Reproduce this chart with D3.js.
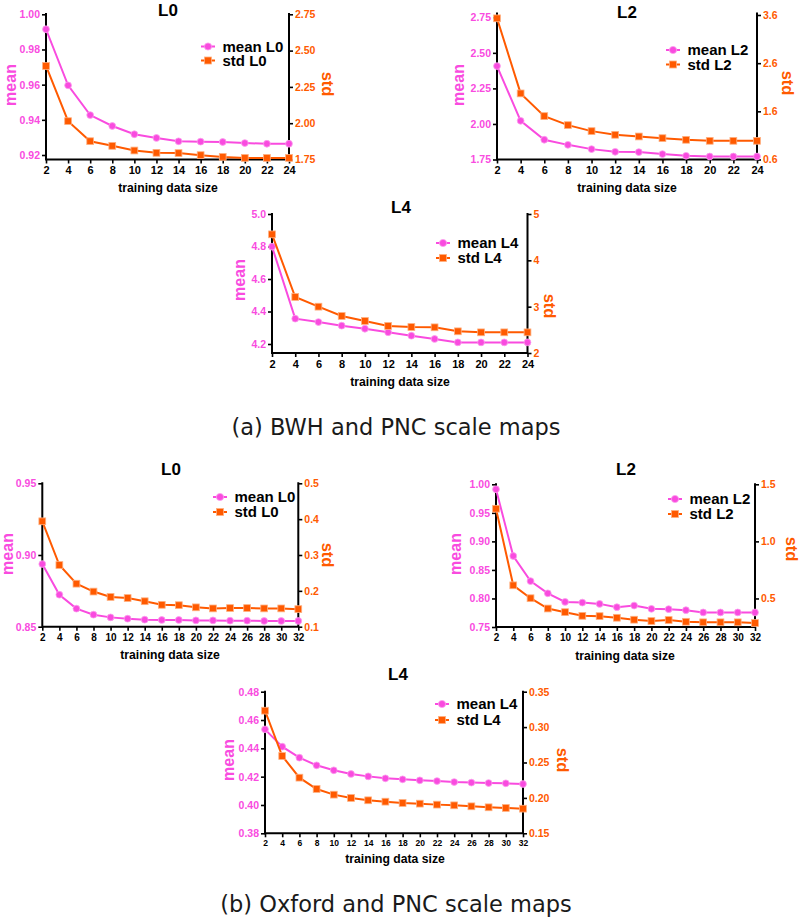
<!DOCTYPE html>
<html>
<head>
<meta charset="utf-8">
<script src="https://cdn.jsdelivr.net/npm/d3@7"></script>
<style>
  html, body { margin: 0; padding: 0; background: #fff; }
  svg { display: block; }
</style>
</head>
<body>
<svg id="chart" width="800" height="922"></svg>
<script>
// ---------------- DATA ----------------
const sizesA = [2, 4, 6, 8, 10, 12, 14, 16, 18, 20, 22, 24];
const sizesB = [2, 4, 6, 8, 10, 12, 14, 16, 18, 20, 22, 24, 26, 28, 30, 32];

// (a) BWH and PNC scale maps
const meanA_L0 = [0.9915, 0.9596, 0.9427, 0.9365, 0.9318, 0.9297, 0.9278, 0.9276, 0.9274, 0.9268, 0.9264, 0.9264];
const stdA_L0  = [2.394, 2.014, 1.876, 1.844, 1.812, 1.796, 1.794, 1.780, 1.768, 1.761, 1.761, 1.761];
const meanA_L2 = [2.407, 2.022, 1.889, 1.853, 1.823, 1.804, 1.802, 1.788, 1.776, 1.771, 1.771, 1.771];
const stdA_L2  = [3.531, 1.972, 1.501, 1.314, 1.189, 1.113, 1.078, 1.043, 1.009, 0.988, 0.988, 0.988];
const meanA_L4 = [4.799, 4.356, 4.335, 4.313, 4.294, 4.272, 4.251, 4.231, 4.210, 4.210, 4.210, 4.210];
const stdA_L4  = [4.561, 3.209, 3.000, 2.799, 2.691, 2.583, 2.561, 2.554, 2.468, 2.446, 2.446, 2.446];

// (b) Oxford and PNC scale maps
const meanB_L0 = [0.8937, 0.8723, 0.8626, 0.8584, 0.8565, 0.8556, 0.8549, 0.8547, 0.8547, 0.8544, 0.8544, 0.8542, 0.8542, 0.8540, 0.8540, 0.8540];
const stdB_L0  = [0.394, 0.272, 0.220, 0.198, 0.183, 0.180, 0.171, 0.161, 0.160, 0.154, 0.151, 0.152, 0.152, 0.151, 0.151, 0.149];
const meanB_L2 = [0.9913, 0.8744, 0.8304, 0.8090, 0.7940, 0.7928, 0.7905, 0.7847, 0.7876, 0.7818, 0.7813, 0.7795, 0.7755, 0.7755, 0.7755, 0.7755];
const stdB_L2  = [1.286, 0.615, 0.502, 0.412, 0.380, 0.348, 0.345, 0.331, 0.314, 0.302, 0.311, 0.296, 0.291, 0.291, 0.291, 0.285];
const meanB_L4 = [0.4534, 0.4412, 0.4334, 0.4280, 0.4245, 0.4219, 0.4202, 0.4188, 0.4181, 0.4174, 0.4169, 0.4162, 0.4158, 0.4155, 0.4153, 0.4148];
const stdB_L4  = [0.3232, 0.2592, 0.2286, 0.2126, 0.2046, 0.1999, 0.1966, 0.1947, 0.1928, 0.1919, 0.1905, 0.1895, 0.1881, 0.1867, 0.1858, 0.1848];

// tick labels
const xTicksA = ["2","4","6","8","10","12","14","16","18","20","22","24"];
const xTicksB = ["2","4","6","8","10","12","14","16","18","20","22","24","26","28","30","32"];
const meanTicksA_L0 = ["0.92","0.94","0.96","0.98","1.00"];
const stdTicksA_L0  = ["1.75","2.00","2.25","2.50","2.75"];
const meanTicksA_L2 = ["1.75","2.00","2.25","2.50","2.75"];
const stdTicksA_L2  = ["0.6","1.6","2.6","3.6"];
const meanTicksA_L4 = ["4.2","4.4","4.6","4.8","5.0"];
const stdTicksA_L4  = ["2","3","4","5"];
const meanTicksB_L0 = ["0.85","0.90","0.95"];
const stdTicksB_L0  = ["0.1","0.2","0.3","0.4","0.5"];
const meanTicksB_L2 = ["0.75","0.80","0.85","0.90","0.95","1.00"];
const stdTicksB_L2  = ["0.5","1.0","1.5"];
const meanTicksB_L4 = ["0.38","0.40","0.42","0.44","0.46","0.48"];
const stdTicksB_L4  = ["0.15","0.20","0.25","0.30","0.35"];

// axis domains (value at bottom / top of each vertical axis)
const meanDomainA_L0 = [0.92, 1.00];  const stdDomainA_L0 = [1.75, 2.75];
const meanDomainA_L2 = [1.75, 2.75];  const stdDomainA_L2 = [0.6, 3.6];
const meanDomainA_L4 = [4.2, 5.0];    const stdDomainA_L4 = [2, 5];
const meanDomainB_L0 = [0.85, 0.95];  const stdDomainB_L0 = [0.1, 0.5];
const meanDomainB_L2 = [0.75, 1.00];  const stdDomainB_L2 = [0.25, 1.5];
const meanDomainB_L4 = [0.38, 0.48];  const stdDomainB_L4 = [0.15, 0.35];

const titles = ["L0", "L2", "L4", "L0", "L2", "L4"];
const captions = ["(a) BWH and PNC scale maps", "(b) Oxford and PNC scale maps"];

// ---------------- STYLE / LAYOUT ----------------
const MAGENTA = "#F94BDF";
const ORANGE = "#FF5A00";
const FONT = "'Liberation Sans', Arial, Helvetica, sans-serif";

const panels = [
  { title: titles[0], xs: sizesA, xt: xTicksA, mean: meanA_L0, std: stdA_L0,
    mt: meanTicksA_L0, st: stdTicksA_L0, md: meanDomainA_L0, sd: stdDomainA_L0,
    xL: 46, xR: 289, yT: 14, yB: 159.5, mRange: [155, 14.3], sRange: [159.5, 14.3],
    titleX: 168, titleY: 16, legX: 208, legY: 46.5, legDY: 14,
    meanLab: [10, 85], stdLab: [328, 84], xLab: [168, 192], xFs: 11 },
  { title: titles[1], xs: sizesA, xt: xTicksA, mean: meanA_L2, std: stdA_L2,
    mt: meanTicksA_L2, st: stdTicksA_L2, md: meanDomainA_L2, sd: stdDomainA_L2,
    xL: 497, xR: 757, yT: 13.5, yB: 159.5, mRange: [159.5, 17.3], sRange: [159.5, 15],
    titleX: 627, titleY: 18, legX: 673, legY: 50, legDY: 14.5,
    meanLab: [458, 85], stdLab: [788, 83], xLab: [627, 192], xFs: 11 },
  { title: titles[2], xs: sizesA, xt: xTicksA, mean: meanA_L4, std: stdA_L4,
    mt: meanTicksA_L4, st: stdTicksA_L4, md: meanDomainA_L4, sd: stdDomainA_L4,
    xL: 272, xR: 527.5, yT: 214, yB: 353, mRange: [344, 214], sRange: [353, 214],
    titleX: 401, titleY: 213, legX: 443, legY: 243, legDY: 15,
    meanLab: [239, 280], stdLab: [550, 306], xLab: [400, 386], xFs: 11 },
  { title: titles[3], xs: sizesB, xt: xTicksB, mean: meanB_L0, std: stdB_L0,
    mt: meanTicksB_L0, st: stdTicksB_L0, md: meanDomainB_L0, sd: stdDomainB_L0,
    xL: 42.3, xR: 298.3, yT: 483.3, yB: 626.7, mRange: [626.7, 483.3], sRange: [626.7, 483.3],
    titleX: 171, titleY: 475, legX: 220, legY: 497, legDY: 15,
    meanLab: [7, 554], stdLab: [328, 555], xLab: [170, 659], xFs: 10 },
  { title: titles[4], xs: sizesB, xt: xTicksB, mean: meanB_L2, std: stdB_L2,
    mt: meanTicksB_L2, st: stdTicksB_L2, md: meanDomainB_L2, sd: stdDomainB_L2,
    xL: 496, xR: 755, yT: 484.3, yB: 627, mRange: [627, 484.3], sRange: [627, 484.3],
    titleX: 626, titleY: 475, legX: 675, legY: 499, legDY: 15,
    meanLab: [455, 554], stdLab: [792, 549], xLab: [625, 660], xFs: 10 },
  { title: titles[5], xs: sizesB, xt: xTicksB, mean: meanB_L4, std: stdB_L4,
    mt: meanTicksB_L4, st: stdTicksB_L4, md: meanDomainB_L4, sd: stdDomainB_L4,
    xL: 265, xR: 523, yT: 691.7, yB: 833.3, mRange: [833.3, 691.7], sRange: [833.3, 691.7],
    titleX: 398, titleY: 680, legX: 442, legY: 704, legDY: 16,
    meanLab: [228, 760], stdLab: [563, 760], xLab: [395, 863], xFs: 8.5 }
];

const svg = d3.select("#chart");

function drawPanel(p) {
  const g = svg.append("g");
  const x = d3.scaleLinear().domain([p.xs[0], p.xs[p.xs.length - 1]]).range([p.xL, p.xR]);
  const yM = d3.scaleLinear().domain(p.md).range(p.mRange);
  const yS = d3.scaleLinear().domain(p.sd).range(p.sRange);

  // axes
  const xAxis = d3.axisBottom(x).tickValues(p.xs).tickFormat((d, i) => p.xt[i])
    .tickSize(4).tickPadding(3);
  const gx = g.append("g").attr("transform", `translate(0,${p.yB})`).call(xAxis);
  const mVals = p.mt.map(Number);
  const gl = g.append("g").attr("transform", `translate(${p.xL},0)`)
    .call(d3.axisLeft(yM).tickValues(mVals).tickFormat((d, i) => p.mt[i]).tickSize(4).tickPadding(2));
  const sVals = p.st.map(Number);
  const gr = g.append("g").attr("transform", `translate(${p.xR},0)`)
    .call(d3.axisRight(yS).tickValues(sVals).tickFormat((d, i) => p.st[i]).tickSize(4).tickPadding(2));

  [gx, gl, gr].forEach(a => {
    a.select(".domain").remove();
    a.selectAll(".tick line").attr("stroke", "#000").attr("stroke-width", 1.6);
    a.selectAll(".tick text").attr("font-family", FONT).attr("font-weight", "bold");
  });
  gx.selectAll(".tick text").attr("font-size", p.xFs).attr("fill", "#000");
  gl.selectAll(".tick text").attr("font-size", 10.5).attr("fill", MAGENTA);
  gr.selectAll(".tick text").attr("font-size", 10.5).attr("fill", ORANGE);

  // axis lines
  const axG = g.append("g").attr("stroke", "#000").attr("stroke-width", 2).attr("fill", "none");
  axG.append("path").attr("d", `M${p.xL},${p.yT}V${p.yB}H${p.xR}V${p.yT}`)
    .attr("stroke-linejoin", "miter").attr("stroke-linecap", "square");

  // series
  const series = [
    { vals: p.mean, color: MAGENTA, shape: "circle", scale: yM },
    { vals: p.std, color: ORANGE, shape: "square", scale: yS }
  ];
  series.forEach(s => {
    const line = d3.line().x((d, i) => x(p.xs[i])).y(d => s.scale(d));
    g.append("path").datum(s.vals).attr("d", line)
      .attr("fill", "none").attr("stroke", s.color).attr("stroke-width", 2);
    const mk = g.append("g");
    if (s.shape === "circle") {
      mk.selectAll("circle").data(s.vals).join("circle")
        .attr("cx", (d, i) => x(p.xs[i])).attr("cy", d => s.scale(d)).attr("r", 3.4)
        .attr("fill", s.color).attr("stroke", "#FBA0EE").attr("stroke-width", 0.8);
    } else {
      mk.selectAll("rect").data(s.vals).join("rect")
        .attr("x", (d, i) => x(p.xs[i]) - 3.4).attr("y", d => s.scale(d) - 3.4)
        .attr("width", 6.8).attr("height", 6.8)
        .attr("fill", s.color).attr("stroke", "#FFB080").attr("stroke-width", 0.8);
    }
  });

  // title
  g.append("text").attr("x", p.titleX).attr("y", p.titleY).attr("text-anchor", "middle")
    .attr("font-family", FONT).attr("font-weight", "bold").attr("font-size", 17)
    .attr("fill", "#000").text(p.title);

  // legend
  const legItems = [
    { label: "mean " + p.title, color: MAGENTA, shape: "circle", stroke: "#FBA0EE" },
    { label: "std " + p.title, color: ORANGE, shape: "square", stroke: "#FFB080" }
  ];
  legItems.forEach((it, i) => {
    const ly = p.legY + i * p.legDY;
    g.append("line").attr("x1", p.legX - 7).attr("x2", p.legX + 7).attr("y1", ly).attr("y2", ly)
      .attr("stroke", it.color).attr("stroke-width", 2);
    if (it.shape === "circle") {
      g.append("circle").attr("cx", p.legX).attr("cy", ly).attr("r", 3.6)
        .attr("fill", it.color).attr("stroke", it.stroke).attr("stroke-width", 0.8);
    } else {
      g.append("rect").attr("x", p.legX - 3.5).attr("y", ly - 3.5).attr("width", 7).attr("height", 7)
        .attr("fill", it.color).attr("stroke", it.stroke).attr("stroke-width", 0.8);
    }
    g.append("text").attr("x", p.legX + 14.5).attr("y", ly).attr("dy", "0.36em")
      .attr("font-family", FONT).attr("font-weight", "bold").attr("font-size", 15)
      .attr("fill", "#000").text(it.label);
  });

  // axis titles
  g.append("text").attr("transform", `translate(${p.meanLab[0]},${p.meanLab[1]}) rotate(-90)`)
    .attr("text-anchor", "middle").attr("dy", "0.36em")
    .attr("font-family", FONT).attr("font-weight", "bold").attr("font-size", 16)
    .attr("fill", MAGENTA).text("mean");
  g.append("text").attr("transform", `translate(${p.stdLab[0]},${p.stdLab[1]}) rotate(90)`)
    .attr("text-anchor", "middle").attr("dy", "0.36em")
    .attr("font-family", FONT).attr("font-weight", "bold").attr("font-size", 16.5)
    .attr("fill", ORANGE).text("std");
  g.append("text").attr("x", p.xLab[0]).attr("y", p.xLab[1]).attr("text-anchor", "middle")
    .attr("font-family", FONT).attr("font-weight", "bold").attr("font-size", 12.2)
    .attr("fill", "#000").text("training data size");
}

panels.forEach(drawPanel);

// captions
const capPos = [[396, 435], [396, 912]];
captions.forEach((c, i) => {
  svg.append("text").attr("x", capPos[i][0]).attr("y", capPos[i][1]).attr("text-anchor", "middle")
    .attr("font-family", "'DejaVu Sans', sans-serif").attr("font-size", 22.5)
    .attr("fill", "#1a1a1a").text(c);
});
</script>
</body>
</html>
